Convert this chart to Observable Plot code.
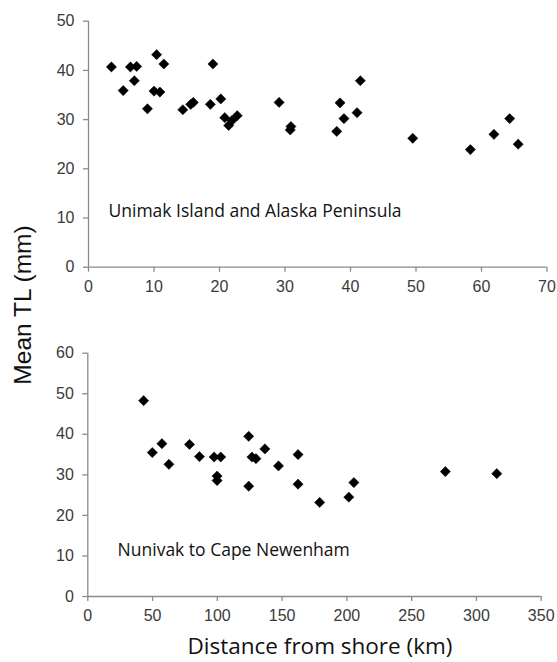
<!DOCTYPE html>
<html>
<head>
<meta charset="utf-8">
<script src="https://cdn.jsdelivr.net/npm/d3@7"></script>
<script src="https://cdn.jsdelivr.net/npm/@observablehq/plot@0.6"></script>
<style>
  html, body { margin: 0; padding: 0; background: #fff; }
  #wrap { position: relative; width: 557px; height: 662px; overflow: hidden; }
  .panel { position: absolute; left: 0; }
  #ylabel { position: absolute; left: 23px; top: 305px; transform: translate(-50%, -50%) rotate(-90deg);
    font-family: "Liberation Sans", Arial, sans-serif; font-size: 24.5px; color: #111; white-space: nowrap; line-height: 24px; }
  #xlabel { position: absolute; left: 320px; top: 635px; transform: translateX(-50%);
    font-family: "Open Sans", sans-serif; font-size: 22.5px; line-height: 22px; color: #111; white-space: nowrap; }
</style>
</head>
<body>
<div id="wrap">
  <div id="top" class="panel" style="top:0px"></div>
  <div id="bottom" class="panel" style="top:300px"></div>
  <div id="ylabel">Mean TL (mm)</div>
  <div id="xlabel">Distance from shore (km)</div>
</div>
<script>
// Panel 1: Unimak Island and Alaska Peninsula
const unimakDist = [3.5,5.3,6.4,7.35,7.0,9.0,10.4,10.0,10.9,11.5,14.4,15.6,16.0,18.6,19.0,20.2,20.8,21.4,21.9,22.7,29.1,30.9,30.8,37.9,38.4,39.0,41.0,41.5,49.5,58.3,61.9,64.3,65.6];
const unimakTL   = [40.7,35.9,40.7,40.8,37.9,32.2,43.2,35.8,35.6,41.3,32.0,33.1,33.5,33.1,41.3,34.2,30.4,28.8,29.8,30.8,33.5,28.6,27.9,27.6,33.4,30.2,31.4,37.9,26.2,23.9,27.0,30.2,25.0];
// Panel 2: Nunivak to Cape Newenham
const nunivakDist = [43.1,49.8,57.2,62.6,78.5,86.2,97.5,102.6,99.8,99.8,124.2,126.7,129.8,124.2,136.7,147.2,162.3,162.3,179,201.5,205.4,276,315.7];
const nunivakTL   = [48.3,35.5,37.7,32.6,37.5,34.5,34.4,34.4,29.7,28.6,39.5,34.4,34.0,27.2,36.4,32.2,35.0,27.7,23.2,24.5,28.1,30.8,30.3];

const topXTicks = [0,10,20,30,40,50,60,70];
const topYTicks = [0,10,20,30,40,50];
const botXTicks = [0,50,100,150,200,250,300,350];
const botYTicks = [0,10,20,30,40,50,60];

const panelLabels = ["Unimak Island and Alaska Peninsula", "Nunivak to Cape Newenham"];

const axisColor = "#8a8a8a";
const tickFont = "Liberation Sans, Arial, sans-serif";

function panel({xs, ys, xTicks, yTicks, label, labelX, labelY, width, height, mt, mb, ml, mr}) {
  const data = xs.map((x, i) => ({x, y: ys[i]}));
  const xMax = xTicks[xTicks.length - 1];
  const yMax = yTicks[yTicks.length - 1];
  return Plot.plot({
    width, height,
    marginTop: mt, marginBottom: mb, marginLeft: ml, marginRight: mr,
    style: {fontFamily: tickFont, fontSize: "16px", color: "#3a3a3a", background: "white", overflow: "visible"},
    x: {domain: [0, xMax]},
    y: {domain: [0, yMax]},
    marks: [
      Plot.ruleY([0], {stroke: axisColor, strokeWidth: 1.3}),
      Plot.ruleX([0], {stroke: axisColor, strokeWidth: 1.3}),
      Plot.axisX({ticks: xTicks, tickSize: 5, tickPadding: 8, stroke: axisColor, strokeWidth: 1.3, label: null, fill: "#3a3a3a"}),
      Plot.axisY({ticks: yTicks, tickSize: 5, tickPadding: 9, stroke: axisColor, strokeWidth: 1.3, label: null, fill: "#3a3a3a"}),
      Plot.dot(data, {x: "x", y: "y", symbol: "diamond2", r: 4.6, fill: "black", stroke: "black", strokeWidth: 0.5}),
      Plot.text([label], {x: labelX, y: labelY, text: d => d, textAnchor: "start",
        fontFamily: "Open Sans, sans-serif", fontSize: 17.5, fill: "#111"})
    ]
  });
}

document.getElementById("top").append(panel({
  xs: unimakDist, ys: unimakTL, xTicks: topXTicks, yTicks: topYTicks,
  label: panelLabels[0], labelX: 3.05, labelY: 11.3,
  width: 557, height: 292, mt: 20.7, mb: 25.3, ml: 88, mr: 10.5
}));

document.getElementById("bottom").append(panel({
  xs: nunivakDist, ys: nunivakTL, xTicks: botXTicks, yTicks: botYTicks,
  label: panelLabels[1], labelX: 23, labelY: 11.3,
  width: 557, height: 320, mt: 52.7, mb: 24, ml: 87.3, mr: 16.3
}));
</script>
</body>
</html>
